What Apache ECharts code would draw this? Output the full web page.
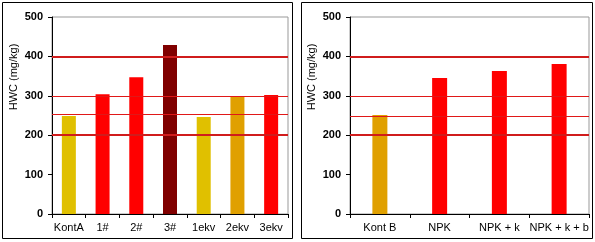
<!DOCTYPE html>
<html>
<head>
<meta charset="utf-8">
<script src="https://cdn.jsdelivr.net/npm/echarts@6/dist/echarts.min.js"></script>
<style>
  html, body { margin: 0; padding: 0; background: #fff; }
  #chart { width: 595px; height: 242px; }
</style>
</head>
<body>
<div id="chart"></div>
<script>
// left panel
const catsA = ['KontA', '1#', '2#', '3#', '1ekv', '2ekv', '3ekv'];
const valsA = [249, 304, 347, 429, 246, 299, 302];
const colorsA = ['#e0c000', '#ff0000', '#ff0000', '#800000', '#e0c000', '#e0a000', '#ff0000'];
const thickA = [200, 400];
const thinA = [254, 300];

// right panel
const catsB = ['Kont B', 'NPK', 'NPK + k', 'NPK + k + b'];
const valsB = [251, 345, 363, 381];
const colorsB = ['#e0a000', '#ff0000', '#ff0000', '#ff0000'];
const thickB = [200, 400];
const thinB = [248, 300];

const yTicks = [0, 100, 200, 300, 400, 500];

const myChart = echarts.init(document.getElementById('chart'));

function yAxisFor(idx) {
  return {
    type: 'value',
    gridIndex: idx,
    min: yTicks[0],
    max: yTicks[yTicks.length - 1],
    interval: 100,
    name: 'HWC (mg/kg)',
    nameLocation: 'middle',
    nameGap: 33,
    nameTextStyle: { fontFamily: 'Liberation Sans', fontSize: 11, color: '#000', padding: [0, 0, 0, 77] },
    axisLine: { show: true, lineStyle: { color: '#000', width: 1 } },
    axisTick: { show: true, length: 4, lineStyle: { color: '#000' } },
    axisLabel: { margin: 9, fontFamily: 'Liberation Sans', fontSize: 11, fontWeight: 'bold', color: '#000' },
    splitLine: { show: false }
  };
}

function xAxisFor(idx, cats) {
  return {
    type: 'category',
    gridIndex: idx,
    data: cats,
    axisLine: { show: true, lineStyle: { color: '#000', width: 1 } },
    axisTick: { show: true, length: 4, alignWithLabel: false, lineStyle: { color: '#000' } },
    axisLabel: { margin: 8, interval: 0, fontFamily: 'Liberation Sans', fontSize: 11, color: '#000' },
    splitLine: { show: false }
  };
}

function markLinesFor(thick, thin) {
  const d = [];
  thick.forEach(v => d.push({ yAxis: v, lineStyle: { color: '#d01c1c', width: 2, type: 'solid' } }));
  thin.forEach(v => d.push({ yAxis: v, lineStyle: { color: '#e01818', width: 1, type: 'solid' } }));
  return { silent: true, symbol: 'none', label: { show: false }, data: d };
}

function barSeries(idx, vals, colors, width, thick, thin) {
  return {
    type: 'bar',
    xAxisIndex: idx,
    yAxisIndex: idx,
    barWidth: width,
    data: vals.map((v, i) => ({ value: v, itemStyle: { color: colors[i] } })),
    markLine: markLinesFor(thick, thin)
  };
}

const option = {
  animation: false,
  grid: [
    { left: 52, top: 17, width: 236, height: 197, show: true, borderColor: '#999', borderWidth: 1, backgroundColor: 'transparent' },
    { left: 350, top: 17, width: 239, height: 197, show: true, borderColor: '#999', borderWidth: 1, backgroundColor: 'transparent' }
  ],
  xAxis: [xAxisFor(0, catsA), xAxisFor(1, catsB)],
  yAxis: [yAxisFor(0), yAxisFor(1)],
  series: [
    barSeries(0, valsA, colorsA, 14, thickA, thinA),
    barSeries(1, valsB, colorsB, 15, thickB, thinB)
  ],
  graphic: [
    { type: 'rect', shape: { x: 2.5, y: 2.5, width: 290, height: 236 }, style: { fill: 'none', stroke: '#000', lineWidth: 1 }, silent: true },
    { type: 'rect', shape: { x: 301.5, y: 2.5, width: 291, height: 236 }, style: { fill: 'none', stroke: '#000', lineWidth: 1 }, silent: true }
  ]
};

myChart.setOption(option);
window.addEventListener('resize', function() {
  myChart.resize();
});
</script>
</body>
</html>
